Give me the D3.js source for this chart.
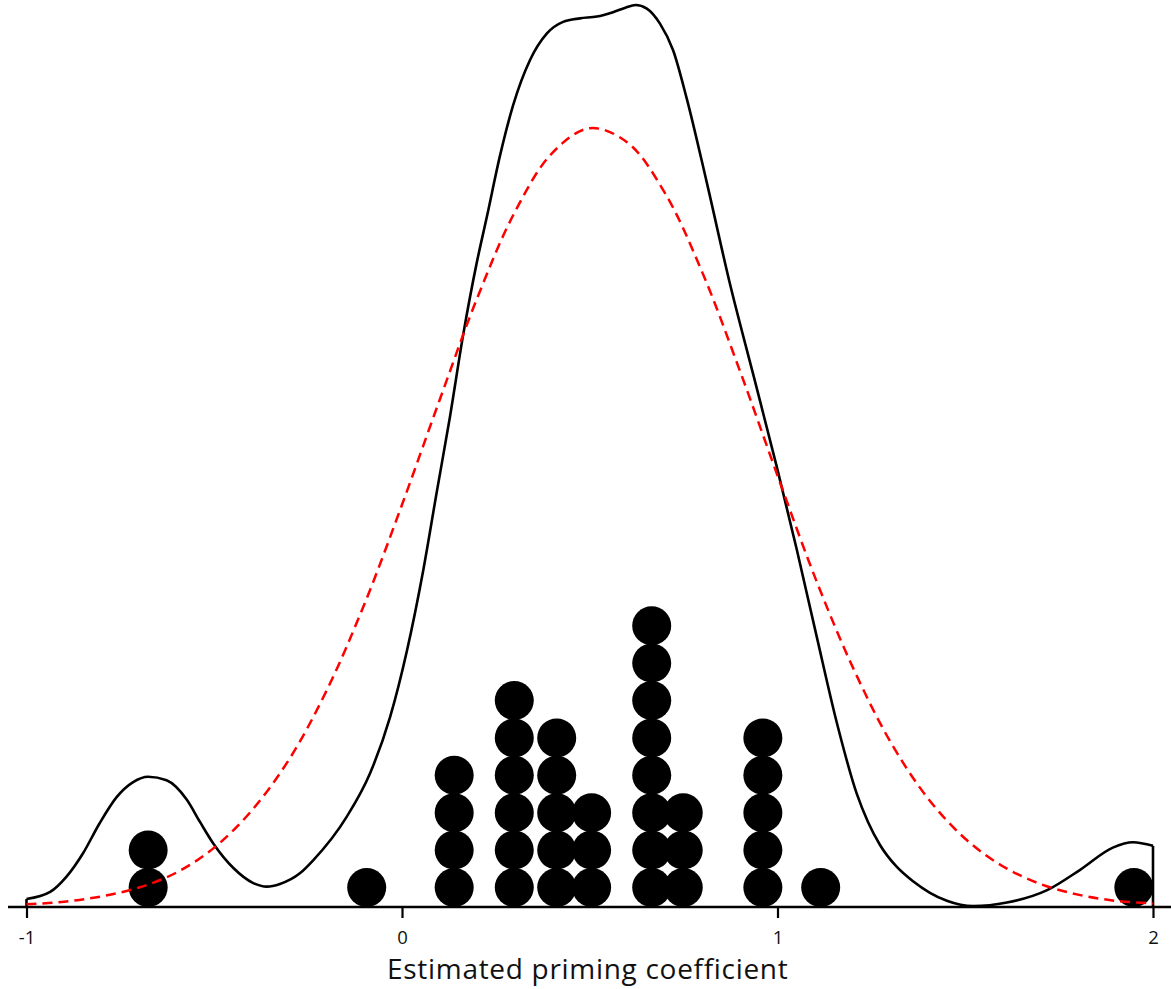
<!DOCTYPE html>
<html>
<head>
<meta charset="utf-8">
<script src="https://cdn.jsdelivr.net/npm/d3@7"></script>
<style>
  html, body { margin: 0; padding: 0; background: #fff; }
  svg { display: block; }
  text { font-family: "Open Sans", "Noto Sans", sans-serif; fill: #111; }
</style>
</head>
<body>
<svg id="chart" width="1171" height="989"></svg>
<script>
// ---- Data ----
// Dot-plot stacks: x position of each stack and number of dots in it
const dotX      = [-0.676, -0.094, 0.139, 0.299, 0.412, 0.505, 0.665, 0.749, 0.961, 1.115, 1.949];
const dotCounts = [2, 1, 4, 6, 5, 3, 8, 3, 5, 1, 1];

// Kernel density estimate (solid black), x and density
const kdeX = [-1.000, -0.937, -0.894, -0.849, -0.806, -0.760, -0.716, -0.676, -0.627, -0.573,
              -0.538, -0.503, -0.449, -0.396, -0.360, -0.325, -0.272, -0.236, -0.147, -0.085,
              -0.032, 0.013, 0.057, 0.092, 0.128, 0.163, 0.199, 0.226, 0.261, 0.296,
              0.341, 0.386, 0.429, 0.474, 0.519, 0.562, 0.595, 0.622, 0.652, 0.687, 0.722,
              0.758, 0.811, 0.873, 0.936, 0.998, 1.051, 1.104, 1.158, 1.211, 1.241,
              1.273, 1.316, 1.361, 1.406, 1.451, 1.521, 1.611, 1.718, 1.806, 1.893,
              1.947, 2.000];
const kdeY = [0.009, 0.017, 0.034, 0.061, 0.094, 0.124, 0.141, 0.147, 0.143, 0.121,
              0.096, 0.072, 0.044, 0.027, 0.023, 0.026, 0.038, 0.053, 0.102, 0.151,
              0.214, 0.289, 0.381, 0.467, 0.554, 0.646, 0.727, 0.779, 0.848, 0.905,
              0.956, 0.986, 0.999, 1.003, 1.005, 1.010, 1.015, 1.018, 1.014, 0.997, 0.967,
              0.913, 0.819, 0.704, 0.600, 0.497, 0.404, 0.306, 0.208, 0.128, 0.096,
              0.070, 0.046, 0.029, 0.016, 0.007, 0.001, 0.005, 0.019, 0.042, 0.067,
              0.073, 0.069];

// Normal reference density (red dashed), x and density
const normX = [-1.0, -0.9, -0.8, -0.7, -0.6, -0.5, -0.4, -0.3, -0.2, -0.1,
               0.0, 0.1, 0.2, 0.3, 0.4, 0.5, 0.6, 0.7, 0.8, 0.9,
               1.0, 1.1, 1.2, 1.3, 1.4, 1.5, 1.6, 1.7, 1.8, 1.9, 2.0];
const normY = [0.003, 0.006, 0.012, 0.022, 0.039, 0.067, 0.109, 0.167, 0.245, 0.342,
               0.454, 0.572, 0.687, 0.784, 0.851, 0.879, 0.863, 0.806, 0.716, 0.605,
               0.487, 0.372, 0.271, 0.187, 0.123, 0.077, 0.046, 0.026, 0.014, 0.007, 0.004];

const xTicks = [-1, 0, 1, 2];
const xTickLabels = ["-1", "0", "1", "2"];
const xTitle = "Estimated priming coefficient";

// ---- Layout ----
const svg = d3.select("#chart");
const axisY = 907;
const x = d3.scaleLinear().domain([-1, 2]).range([26.5, 1153]);
const y = d3.scaleLinear().domain([0, 1.02]).range([axisY, axisY - 1.02 * 886]);
const dotR = 19.5;
const stack = d3.scaleLinear().domain([0, 1]).range([axisY - dotR, axisY - dotR - 37.4]);

// Dots
const dots = [];
dotX.forEach((v, i) => { for (let k = 0; k < dotCounts[i]; k++) dots.push({ v, k }); });
svg.append("g").selectAll("circle").data(dots).join("circle")
  .attr("cx", d => x(d.v))
  .attr("cy", d => stack(d.k))
  .attr("r", dotR)
  .attr("fill", "#000");

// KDE curve, closed down to the baseline at both ends
const kdeLine = d3.line().x(d => x(d[0])).y(d => y(d[1])).curve(d3.curveMonotoneX);
svg.append("path")
  .attr("d", kdeLine(kdeX.map((v, i) => [v, kdeY[i]])))
  .attr("fill", "none").attr("stroke", "#000").attr("stroke-width", 2.6)
  .attr("stroke-linejoin", "round");
const ends = [0, kdeX.length - 1];
svg.append("g").selectAll("line").data(ends).join("line")
  .attr("x1", i => x(kdeX[i])).attr("x2", i => x(kdeX[i]))
  .attr("y1", i => y(kdeY[i])).attr("y2", y(0))
  .attr("stroke", "#000").attr("stroke-width", 2.6);

// Normal curve
const normLine = d3.line().x(d => x(d[0])).y(d => y(d[1])).curve(d3.curveCatmullRom.alpha(0.5));
svg.append("path")
  .attr("d", normLine(normX.map((v, i) => [v, normY[i]])))
  .attr("fill", "none").attr("stroke", "#ff0000").attr("stroke-width", 2.5)
  .attr("stroke-dasharray", "10,6");

// Axis
const axis = d3.axisBottom(x).tickValues(xTicks).tickFormat((d, i) => xTickLabels[i])
  .tickSize(11).tickPadding(13);
const gAxis = svg.append("g").attr("transform", `translate(0,${axisY})`).call(axis);
gAxis.select(".domain").remove();
gAxis.selectAll(".tick line").attr("stroke", "#000").attr("stroke-width", 2.2);
gAxis.selectAll(".tick text").style("font-family", "'Open Sans', 'Noto Sans', sans-serif")
  .style("font-size", "18.5px").attr("fill", "#111");
svg.append("line").attr("x1", 8).attr("x2", 1171).attr("y1", axisY).attr("y2", axisY)
  .attr("stroke", "#000").attr("stroke-width", 2.6);

svg.append("text").attr("x", (x(0) + x(1)) / 2 - 2).attr("y", 979)
  .attr("text-anchor", "middle").style("font-size", "28px")
  .style("letter-spacing", "0.7px").text(xTitle);
</script>
</body>
</html>
